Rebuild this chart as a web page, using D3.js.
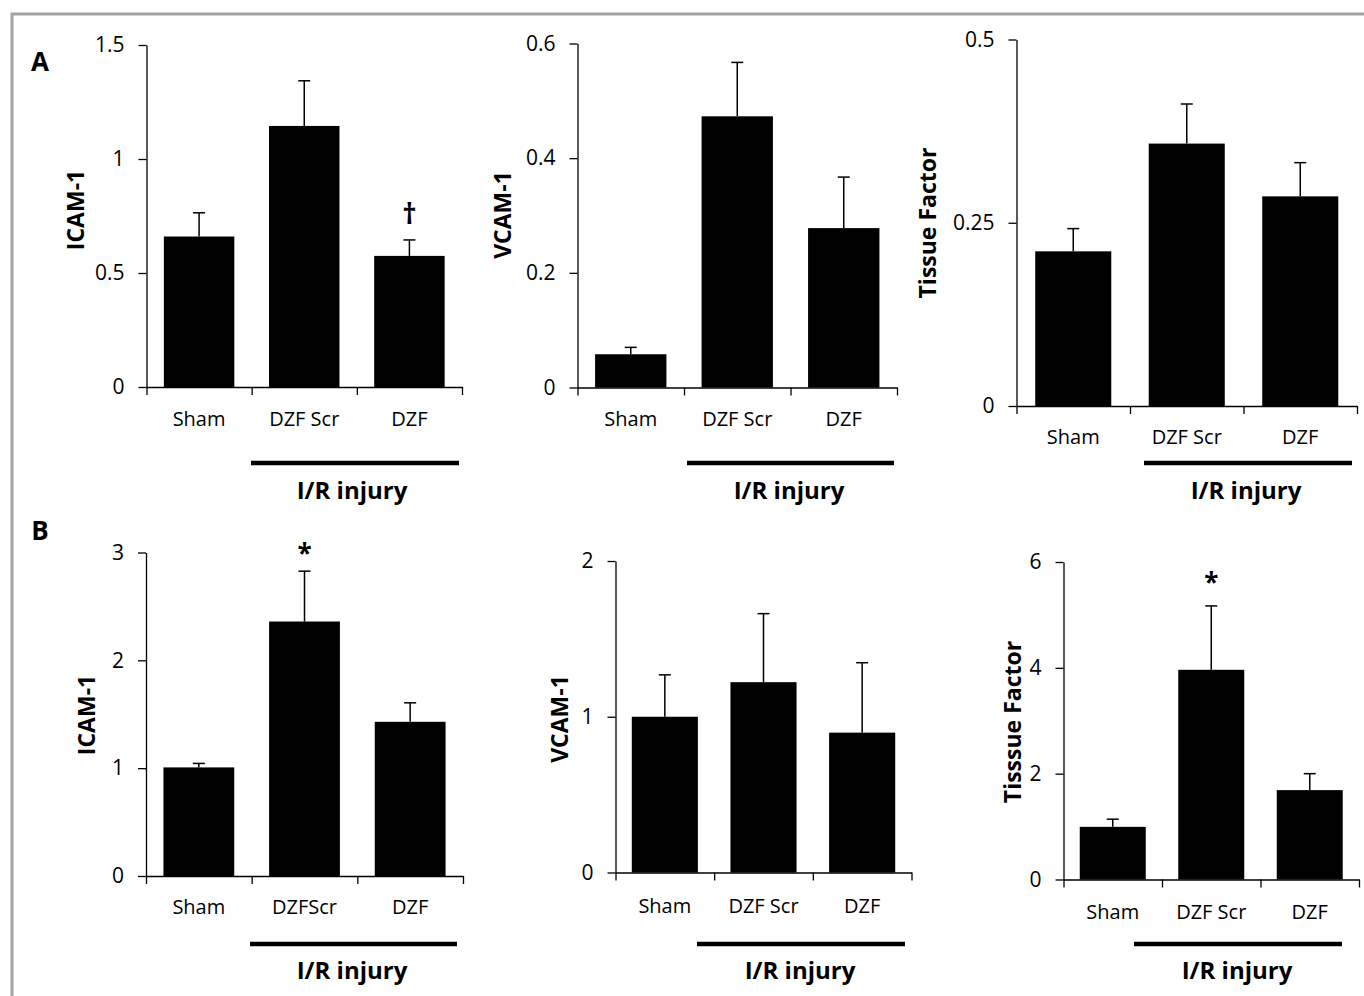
<!DOCTYPE html>
<html>
<head>
<meta charset="utf-8">
<script src="https://cdn.jsdelivr.net/npm/d3@7"></script>
<style>
  body { margin: 0; background: #fff; }
  text { font-family: "Open Sans", sans-serif; fill: #000; }
</style>
</head>
<body>
<svg width="1364" height="996"></svg>
<script>
// group names
var groups = ["Sham", "DZF Scr", "DZF"];
var groupsB1 = ["Sham", "DZFScr", "DZF"];

// values (mean, SEM)
var icamA = [0.66, 1.145, 0.575];
var icamAErr = [0.104, 0.198, 0.07];
var vcamA = [0.058, 0.473, 0.278];
var vcamAErr = [0.012, 0.094, 0.089];
var tfA = [0.211, 0.358, 0.286];
var tfAErr = [0.031, 0.054, 0.046];

var icamB = [1.007, 2.36, 1.43];
var icamBErr = [0.037, 0.467, 0.176];
var vcamB = [1.0, 1.222, 0.898];
var vcamBErr = [0.269, 0.44, 0.449];
var tfB = [0.995, 3.963, 1.689];
var tfBErr = [0.145, 1.207, 0.311];

// y axis ticks
var ticksIcamA = [0, 0.5, 1, 1.5];
var ticksVcamA = [0, 0.2, 0.4, 0.6];
var ticksTfA = [0, 0.25, 0.5];
var ticksIcamB = [0, 1, 2, 3];
var ticksVcamB = [0, 1, 2];
var ticksTfB = [0, 2, 4, 6];

// significance marks
var marksIcamA = ["", "", "\u2020"];
var marksIcamB = ["", "*", ""];
var marksTfB = ["", "*", ""];

var svg = d3.select("svg");

// grey frame (only top & left show)
svg.append("rect")
  .attr("x", 12).attr("y", 14)
  .attr("width", 1380).attr("height", 1000)
  .attr("fill", "none")
  .attr("stroke", "#a3a3a3")
  .attr("stroke-width", 3);

svg.append("text").attr("x", 40).attr("y", 71)
  .attr("text-anchor", "middle").attr("font-size", "26px").attr("font-weight", "bold").text("A");
svg.append("text").attr("x", 40).attr("y", 540)
  .attr("text-anchor", "middle").attr("font-size", "26px").attr("font-weight", "bold").text("B");

var panels = [
  { cats: groups, vals: icamA, errs: icamAErr, ticks: ticksIcamA, marks: marksIcamA, title: "ICAM-1",
    x0: 146.5, x1: 462, yTop: 45, yZero: 387, labY: 426, titleX: 76, titleY: 210,
    irX0: 251, irX1: 459, irY: 463, irTextX: 352, irTextY: 499, markOff: 16 },
  { cats: groups, vals: vcamA, errs: vcamAErr, ticks: ticksVcamA, marks: null, title: "VCAM-1",
    x0: 577.5, x1: 897, yTop: 43.5, yZero: 387.5, labY: 426, titleX: 503, titleY: 215,
    irX0: 687, irX1: 894, irY: 463, irTextX: 789, irTextY: 499 },
  { cats: groups, vals: tfA, errs: tfAErr, ticks: ticksTfA, marks: null, title: "Tissue Factor",
    x0: 1016.5, x1: 1357, yTop: 39.5, yZero: 406, labY: 444, titleX: 928, titleY: 223,
    irX0: 1144, irX1: 1352, irY: 463, irTextX: 1246, irTextY: 499 },
  { cats: groupsB1, vals: icamB, errs: icamBErr, ticks: ticksIcamB, marks: marksIcamB, title: "ICAM-1",
    x0: 146, x1: 463, yTop: 552.5, yZero: 876, labY: 914, titleX: 87, titleY: 715,
    irX0: 250, irX1: 457, irY: 944, irTextX: 352, irTextY: 979, markOff: 8 },
  { cats: groups, vals: vcamB, errs: vcamBErr, ticks: ticksVcamB, marks: null, title: "VCAM-1",
    x0: 615.5, x1: 911.5, yTop: 561, yZero: 872.5, labY: 913, titleX: 560, titleY: 719,
    irX0: 697, irX1: 905, irY: 944, irTextX: 800, irTextY: 979 },
  { cats: groups, vals: tfB, errs: tfBErr, ticks: ticksTfB, marks: marksTfB, title: "Tisssue Factor",
    x0: 1063.5, x1: 1359, yTop: 562, yZero: 879.5, labY: 919, titleX: 1013, titleY: 722,
    irX0: 1134, irX1: 1342, irY: 944, irTextX: 1237, irTextY: 979, markOff: 14 }
];

panels.forEach(function (p) {
  var g = svg.append("g");
  var yMax = p.ticks[p.ticks.length - 1];
  var y = d3.scaleLinear().domain([0, yMax]).range([p.yZero, p.yTop]);
  var x = d3.scaleBand().domain(p.cats).range([p.x0, p.x1]);
  var xEdge = d3.scaleLinear().domain([0, p.cats.length]).range([p.x0, p.x1]);
  var bw = x.bandwidth() * 0.67;

  // y axis
  var ya = g.append("g")
    .attr("transform", "translate(" + p.x0 + ",0)")
    .call(d3.axisLeft(y).tickValues(p.ticks).tickSize(8).tickSizeOuter(0).tickPadding(14)
      .tickFormat(function (d) { return String(d); }));
  ya.select(".domain").attr("stroke", "#000").attr("stroke-width", 1.3);
  ya.selectAll(".tick line").attr("stroke", "#000").attr("stroke-width", 1.3);
  ya.selectAll(".tick text").attr("font-size", "21px").attr("font-family", "Open Sans").attr("fill", "#000");

  // x axis with ticks at category boundaries
  var xa = g.append("g")
    .attr("transform", "translate(0," + p.yZero + ")")
    .call(d3.axisBottom(xEdge).tickValues(d3.range(p.cats.length + 1)).tickSize(8).tickSizeOuter(0).tickFormat(""));
  xa.select(".domain").attr("stroke", "#000").attr("stroke-width", 1.3);
  xa.selectAll(".tick line").attr("stroke", "#000").attr("stroke-width", 1.3);

  // category labels
  g.selectAll(".cat").data(p.cats).enter().append("text")
    .attr("x", function (d) { return x(d) + x.bandwidth() / 2; })
    .attr("y", p.labY)
    .attr("text-anchor", "middle")
    .attr("font-size", "20px")
    .text(function (d) { return d; });

  // bars
  g.selectAll(".bar").data(p.vals).enter().append("rect")
    .attr("x", function (d, i) { return x(p.cats[i]) + (x.bandwidth() - bw) / 2; })
    .attr("y", function (d) { return y(d); })
    .attr("width", bw)
    .attr("height", function (d) { return p.yZero - y(d); })
    .attr("fill", "#000");

  // error bars (upper only)
  p.vals.forEach(function (v, i) {
    var cx = x(p.cats[i]) + x.bandwidth() / 2;
    var top = y(v + p.errs[i]);
    g.append("line").attr("x1", cx).attr("x2", cx).attr("y1", y(v)).attr("y2", top)
      .attr("stroke", "#000").attr("stroke-width", 1.5);
    g.append("line").attr("x1", cx - 6).attr("x2", cx + 6).attr("y1", top).attr("y2", top)
      .attr("stroke", "#000").attr("stroke-width", 1.5);
    if (p.marks && p.marks[i]) {
      g.append("text")
        .attr("x", cx)
        .attr("y", top - p.markOff)
        .attr("text-anchor", "middle")
        .attr("font-size", p.marks[i] === "*" ? "26px" : "28px")
        .attr("font-weight", "bold")
        .text(p.marks[i]);
    }
  });

  // y axis title
  g.append("text")
    .attr("transform", "translate(" + p.titleX + "," + p.titleY + ") rotate(-90)")
    .attr("text-anchor", "middle")
    .attr("dy", "0.36em")
    .attr("font-size", "23px")
    .attr("font-weight", "bold")
    .text(p.title);

  // I/R injury bracket
  g.append("line").attr("x1", p.irX0).attr("x2", p.irX1).attr("y1", p.irY).attr("y2", p.irY)
    .attr("stroke", "#000").attr("stroke-width", 4.5);
  g.append("text")
    .attr("x", p.irTextX).attr("y", p.irTextY)
    .attr("text-anchor", "middle")
    .attr("font-size", "24px")
    .attr("font-weight", "bold")
    .text("I/R injury");
});
</script>
</body>
</html>
